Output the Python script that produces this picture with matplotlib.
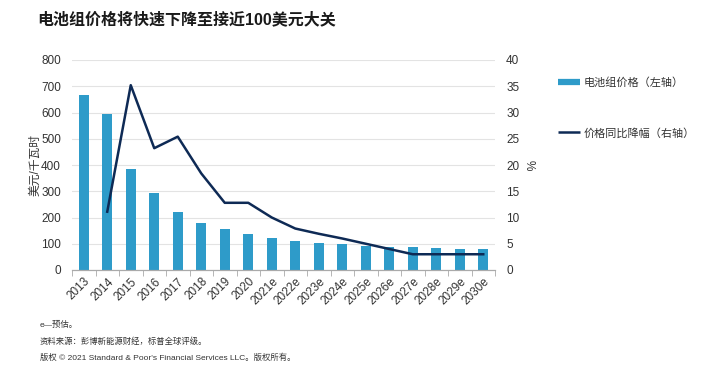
import matplotlib.pyplot as plt
from matplotlib.lines import Line2D
import numpy as np

plt.rcParams['font.family'] = ['Liberation Sans', 'Noto Sans CJK SC', 'DejaVu Sans']

# data
years = ['2013', '2014', '2015', '2016', '2017', '2018', '2019', '2020',
         '2021e', '2022e', '2023e', '2024e', '2025e', '2026e', '2027e',
         '2028e', '2029e', '2030e']
pack_price = [667, 593, 384, 294, 220, 180, 157, 137, 121, 112, 104, 99,
              93, 89, 86, 84, 81, 79]
yoy_drop = [None, 11.1, 35.2, 23.2, 25.4, 18.4, 12.8, 12.8, 10.0, 7.9, 6.9,
            6.0, 5.0, 4.0, 3.0, 3.0, 3.0, 3.0]

bar_color = '#2E9BC9'
line_color = '#0E2A55'
grid_color = '#E3E3E3'
text_color = '#333333'

fig = plt.figure(figsize=(7.01, 3.66), dpi=100)
ax = fig.add_axes([72 / 701, 1 - 270 / 366, (495 - 72) / 701, 210 / 366])
ax2 = ax.twinx()

x = np.arange(len(years))
ax.bar(x, pack_price, width=0.42, color=bar_color, zorder=2)

lx = [i for i, v in enumerate(yoy_drop) if v is not None]
ly = [v for v in yoy_drop if v is not None]
ax2.plot(lx, ly, color=line_color, lw=1.8)

ax.set_xlim(-0.5, len(years) - 0.5)
ax.set_ylim(0, 800)
ax.set_yticks(range(0, 801, 100))
ax2.set_ylim(0, 40)
ax2.set_yticks(range(0, 41, 5))
ax.yaxis.grid(True, color=grid_color, lw=0.8, zorder=0)
ax.set_axisbelow(True)

for a in (ax, ax2):
    for s in ('top', 'left', 'right'):
        a.spines[s].set_visible(False)
    a.spines['bottom'].set_color('#AAAAAA')
    a.tick_params(axis='y', length=0, labelsize=8.5, labelcolor=text_color, pad=8)

ax.set_xticks(x)
ax.set_xticklabels(years, rotation=45, ha='right', rotation_mode='anchor',
                   fontsize=8.5, color=text_color)
ax.tick_params(axis='x', length=0, pad=4)
ax.set_xticks(np.arange(-0.5, len(years), 1), minor=True)
ax.tick_params(axis='x', which='minor', length=4, color='#AAAAAA')

ax.set_ylabel('美元/千瓦时', fontsize=8.5, color=text_color, labelpad=0)
ax2.set_ylabel('%', fontsize=8.5, color=text_color, labelpad=2, rotation=270, va='bottom')

# legend
handles = [Line2D([], [], color=bar_color, lw=4.5, solid_capstyle='butt'),
           Line2D([], [], color=line_color, lw=1.8, solid_capstyle='butt')]
fig.legend(handles, ['电池组价格（左轴）', '价格同比降幅（右轴）'], loc='upper left',
           bbox_to_anchor=(548 / 701, 1 - 67 / 366), frameon=False, fontsize=8,
           labelspacing=3.6, handlelength=2.0, handletextpad=0.3,
           labelcolor=text_color)

fig.text(37 / 701, 1 - 19 / 366, '电池组价格将快速下降至接近100美元大关',
         fontsize=11.5, fontweight='bold', va='center', color='#1A1A1A')

fig.text(40 / 701, 1 - 325 / 366, 'e—预估。', fontsize=6, color=text_color, va='center')
fig.text(40 / 701, 1 - 342 / 366, '资料来源：彭博新能源财经，标普全球评级。', fontsize=6,
         color=text_color, va='center')
fig.text(40 / 701, 1 - 358 / 366, "版权 © 2021 Standard & Poor's Financial Services LLC。版权所有。",
         fontsize=6, color=text_color, va='center')

fig.savefig('out.png', dpi=100)
